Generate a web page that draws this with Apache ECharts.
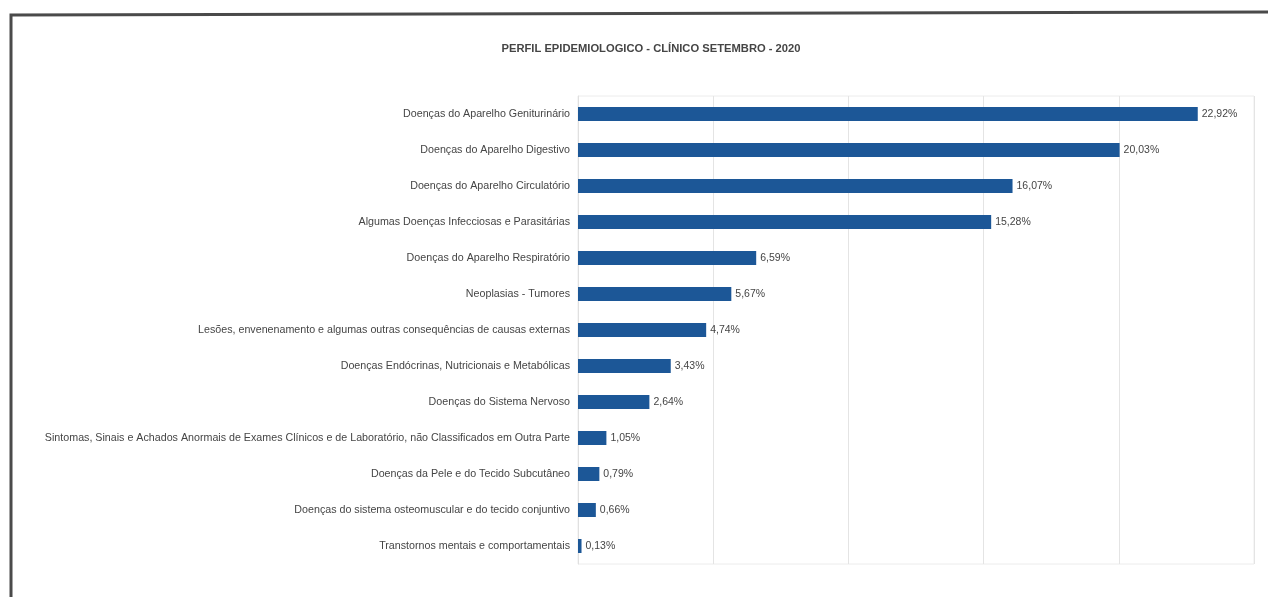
<!DOCTYPE html>
<html>
<head>
<meta charset="utf-8">
<script src="https://cdn.jsdelivr.net/npm/echarts@6/dist/echarts.min.js"></script>
<style>
html,body{margin:0;padding:0;background:#fff;}
#chart{width:1268px;height:597px;}
</style>
</head>
<body>
<div id="chart"></div>
<script>
const titleText = 'PERFIL EPIDEMIOLOGICO - CLÍNICO SETEMBRO - 2020';
const categories = [
  'Doenças do Aparelho Geniturinário',
  'Doenças do Aparelho Digestivo',
  'Doenças do Aparelho Circulatório',
  'Algumas Doenças Infecciosas e Parasitárias',
  'Doenças do Aparelho Respiratório',
  'Neoplasias - Tumores',
  'Lesões, envenenamento e algumas outras consequências de causas externas',
  'Doenças Endócrinas, Nutricionais e Metabólicas',
  'Doenças do Sistema Nervoso',
  'Sintomas, Sinais e Achados Anormais de Exames Clínicos e de Laboratório, não Classificados em Outra Parte',
  'Doenças da Pele e do Tecido Subcutâneo',
  'Doenças do sistema osteomuscular e do tecido conjuntivo',
  'Transtornos mentais e comportamentais'
];
const percentages = [22.92, 20.03, 16.07, 15.28, 6.59, 5.67, 4.74, 3.43, 2.64, 1.05, 0.79, 0.66, 0.13];
const axisMin = 0, axisMax = 25, axisStep = 5;

const chart = echarts.init(document.getElementById('chart'));
const fontFam = '"Liberation Sans", Arial, sans-serif';
chart.setOption({
  animation: false,
  backgroundColor: '#fff',
  title: {
    text: titleText,
    left: 646, top: 38, textAlign: 'center',
    textStyle: { fontSize: 11.2, fontWeight: 'bold', color: '#454545', fontFamily: fontFam }
  },
  graphic: [
    { type: 'polyline', shape: { points: [[11, 597], [11, 15], [1268, 12]] },
      style: { stroke: '#4a4a4a', lineWidth: 3, fill: null } }
  ],
  grid: { left: 578, right: 14, top: 96, bottom: 33, show: true, borderColor: '#ececec', borderWidth: 1 },
  xAxis: {
    type: 'value', min: axisMin, max: axisMax, interval: axisStep,
    axisLabel: { show: false }, axisTick: { show: false }, axisLine: { show: false },
    splitLine: { show: true, lineStyle: { color: '#e4e4e4', width: 1 } }
  },
  yAxis: {
    type: 'category', inverse: true, data: categories,
    axisTick: { show: false },
    axisLine: { show: true, lineStyle: { color: '#e0e0e0' } },
    axisLabel: { color: '#454545', fontSize: 10.7, fontFamily: fontFam, margin: 8 }
  },
  series: [{
    type: 'bar', data: percentages, barWidth: 14,
    itemStyle: { color: '#1c5797' },
    label: {
      show: true, position: 'right', distance: 4,
      color: '#454545', fontSize: 10.5, fontFamily: fontFam,
      formatter: p => p.value.toFixed(2).replace('.', ',') + '%'
    }
  }]
});
</script>
</body>
</html>
